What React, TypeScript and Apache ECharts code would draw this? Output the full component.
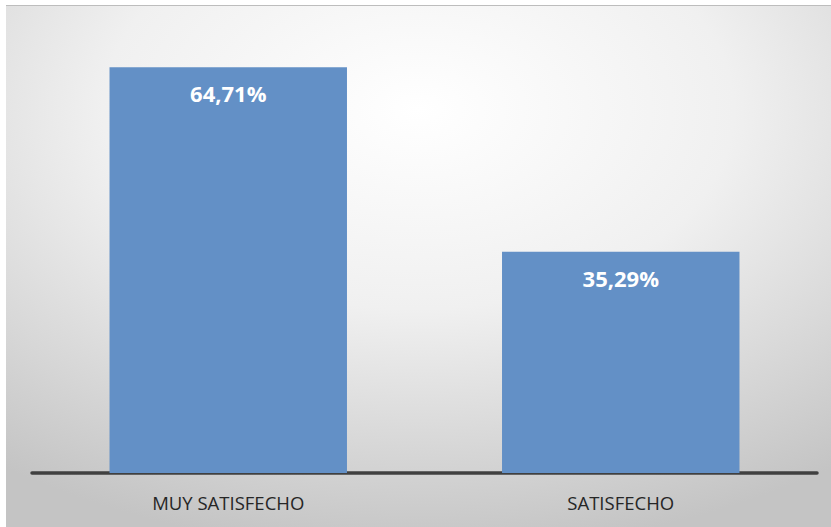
import React, { useEffect, useRef } from "react";
import * as echarts from "echarts";

const categories = ["MUY SATISFECHO", "SATISFECHO"];
const values = [64.71, 35.29];
const labels = ["64,71%", "35,29%"];

export default function App() {
  const ref = useRef<HTMLDivElement>(null);
  useEffect(() => {
    const chart = echarts.init(ref.current!, null, { renderer: "svg" });
    chart.setOption({
      animation: false,
      backgroundColor: "#ffffff",
      graphic: [
        {
          type: "rect",
          z: -10,
          shape: { x: 6, y: 5, width: 825, height: 522 },
          style: {
            fill: new echarts.graphic.RadialGradient(0.5, 0.2, 0.85, [
              { offset: 0, color: "#ffffff" },
              { offset: 0.45, color: "#f0f0f0" },
              { offset: 1, color: "#c4c4c4" },
            ]),
          },
        },
        {
          type: "line",
          z: -9,
          shape: { x1: 6, y1: 5.5, x2: 831, y2: 5.5 },
          style: { stroke: "#bdbdbd", lineWidth: 1 },
        },
      ],
      grid: { left: 32, right: 14, top: 34, bottom: 54, containLabel: false },
      xAxis: {
        type: "category",
        data: categories,
        axisLine: { show: true, lineStyle: { color: "#404040", width: 3.5 } },
        axisTick: { show: false },
        axisLabel: {
          color: "#262626",
          fontFamily: "Open Sans",
          fontSize: 18.5,
          margin: 20,
        },
      },
      yAxis: {
        type: "value",
        min: 0,
        max: 70,
        show: false,
        splitLine: { show: false },
      },
      series: [
        {
          type: "bar",
          data: values,
          barWidth: "60.5%",
          itemStyle: { color: "#6390C6" },
          label: {
            show: true,
            position: "insideTop",
            distance: 15,
            color: "#ffffff",
            fontFamily: "Open Sans",
            fontWeight: "bold",
            fontSize: 22,
            formatter: (p: any) => labels[p.dataIndex],
          },
        },
      ],
    });
    return () => chart.dispose();
  }, []);
  return <div ref={ref} style={{ width: 831, height: 527, position: "absolute", left: 0, top: 0 }} />;
}
